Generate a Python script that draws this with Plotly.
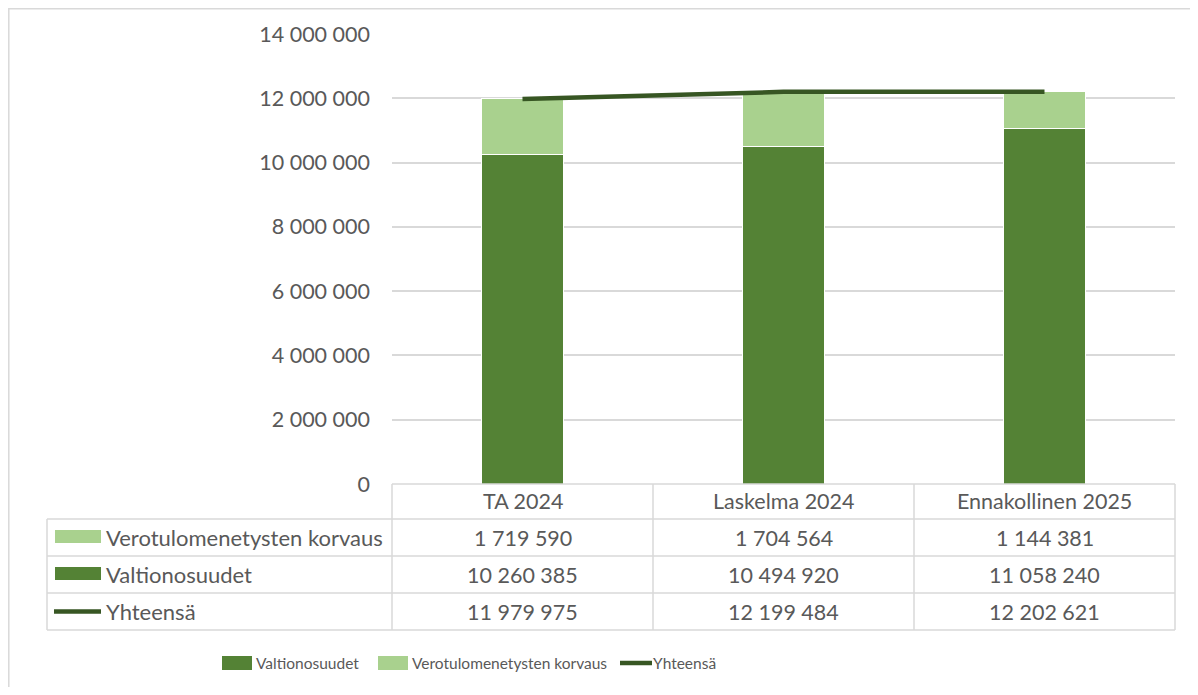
import plotly.graph_objects as go

categories = ["TA 2024", "Laskelma 2024", "Ennakollinen 2025"]
valtionosuudet = [10260385, 10494920, 11058240]
verotulo = [1719590, 1704564, 1144381]
yhteensa = [11979975, 12199484, 12202621]
y_ticks = [0, 2000000, 4000000, 6000000, 8000000, 10000000, 12000000, 14000000]

C_DARK = "#548235"
C_LIGHT = "#A9D18E"
C_LINE = "#375623"
C_GRID = "#D9D9D9"
C_TEXT = "#595959"
FONT = "Lato"
FS = 21.5
FONT_LEG = "Lato"
FS_LEG = 15.5

OFF = 8  # page body margin
W, H = 1198 - 2 * OFF, 695 - 2 * OFF
L, R, T, B = 392, 1175, 34, 484  # reference screen pixels
pw, ph = R - L, B - T

def fmt(v):
    return f"{v:,}".replace(",", " ")

def px(x):
    return (x - L) / pw

def py(y):
    return (B - y) / ph

fig = go.Figure()
fig.add_bar(x=categories, y=valtionosuudet, name="Valtionosuudet",
            marker=dict(color=C_DARK, line=dict(color="white", width=1)), width=0.315)
fig.add_bar(x=categories, y=verotulo, name="Verotulomenetysten korvaus",
            marker=dict(color=C_LIGHT, line=dict(color="white", width=1)), width=0.315)
fig.add_scatter(x=categories, y=yhteensa, name="Yhteensä", mode="lines",
                line=dict(color=C_LINE, width=4.5))

shapes = []
annotations = []

def hline(x0, x1, y):
    shapes.append(dict(type="line", xref="paper", yref="paper", x0=x0, x1=x1, y0=y, y1=y,
                       line=dict(color=C_GRID, width=1.5)))

def vline(x, y0, y1):
    shapes.append(dict(type="line", xref="paper", yref="paper", x0=x, x1=x, y0=y0, y1=y1,
                       line=dict(color=C_GRID, width=1.5)))

rows_py = [484, 519, 556, 593, 630]
hline(px(L), px(R), py(rows_py[0]))
for yy in rows_py[1:]:
    hline(px(47), px(R), py(yy))
for xv in [L, 653, 914, R]:
    vline(px(xv), py(rows_py[0]), py(rows_py[-1]))
vline(px(47), py(rows_py[1]), py(rows_py[-1]))

for i, c in enumerate(categories):
    annotations.append(dict(x=c, xref="x", y=py((rows_py[0] + rows_py[1]) / 2 - 1), yref="paper",
                            text=c, showarrow=False, xanchor="center", yanchor="middle",
                            font=dict(family=FONT, size=FS, color=C_TEXT)))

table_rows = [("Verotulomenetysten korvaus", verotulo, "rect", C_LIGHT),
              ("Valtionosuudet", valtionosuudet, "rect", C_DARK),
              ("Yhteensä", yhteensa, "line", C_LINE)]
for r, (label, vals, kind, col) in enumerate(table_rows):
    yc = (rows_py[r + 1] + rows_py[r + 2]) / 2
    if kind == "rect":
        shapes.append(dict(type="rect", xref="paper", yref="paper", x0=px(55), x1=px(101),
                           y0=py(yc + 5.5), y1=py(yc - 7.5), fillcolor=col, line=dict(width=0)))
    else:
        shapes.append(dict(type="line", xref="paper", yref="paper", x0=px(54), x1=px(101),
                           y0=py(yc), y1=py(yc), line=dict(color=col, width=4.5)))
    annotations.append(dict(x=px(104), xref="paper", y=py(yc), yref="paper", text=label,
                            showarrow=False, xanchor="left", yanchor="middle",
                            font=dict(family=FONT, size=22, color=C_TEXT)))
    for i, c in enumerate(categories):
        annotations.append(dict(x=c, xref="x", y=py(yc), yref="paper", text=fmt(vals[i]),
                                showarrow=False, xanchor="center", yanchor="middle",
                                font=dict(family=FONT, size=FS, color=C_TEXT)))

# bottom legend
ly = 663
leg = [("Valtionosuudet", "rect", C_DARK, 222), ("Verotulomenetysten korvaus", "rect", C_LIGHT, 378),
       ("Yhteensä", "line", C_LINE, 619)]
for label, kind, col, x0 in leg:
    if kind == "rect":
        shapes.append(dict(type="rect", xref="paper", yref="paper", x0=px(x0), x1=px(x0 + 30),
                           y0=py(ly + 7), y1=py(ly - 7), fillcolor=col, line=dict(width=0)))
    else:
        shapes.append(dict(type="line", xref="paper", yref="paper", x0=px(x0 + 1), x1=px(x0 + 33),
                           y0=py(ly), y1=py(ly), line=dict(color=col, width=4.5)))
    annotations.append(dict(x=px(x0 + 32), xref="paper", y=py(ly), yref="paper", text=label,
                            showarrow=False, xanchor="left", yanchor="middle",
                            font=dict(family=FONT_LEG, size=FS_LEG, color=C_TEXT)))

# outer frame (top and left visible)
shapes.append(dict(type="rect", xref="paper", yref="paper", x0=px(OFF + 0.8), x1=px(1230),
                   y0=py(730), y1=py(OFF + 0.8), line=dict(color=C_GRID, width=1.5)))

fig.update_layout(
    width=W, height=H, barmode="stack", showlegend=False,
    margin=dict(l=L - OFF, r=(W + OFF) - R, t=T - OFF, b=(H + OFF) - B, pad=0),
    plot_bgcolor="white", paper_bgcolor="white",
    separators=", ",
    font=dict(family=FONT, size=FS, color=C_TEXT),
    shapes=shapes, annotations=annotations,
    xaxis=dict(range=[-0.5, 2.5], showticklabels=False, showgrid=False, zeroline=False,
               showline=False, ticks=""),
    yaxis=dict(range=[0, 14000000], tickvals=y_ticks, ticktext=[fmt(v) for v in y_ticks],
               showgrid=True, gridcolor=C_GRID, gridwidth=1.5, zeroline=False, showline=False,
               ticks="", ticklabelstandoff=21, tickfont=dict(family=FONT, size=FS, color=C_TEXT)),
)

fig.write_html("out.html")
